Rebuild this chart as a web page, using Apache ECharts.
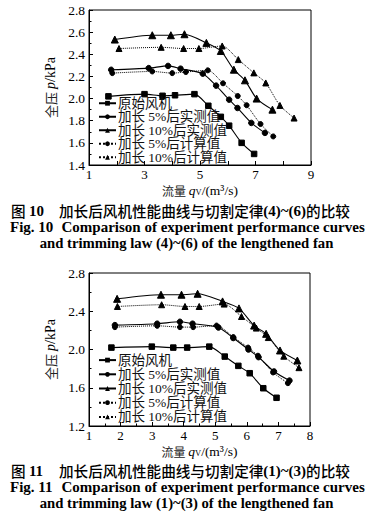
<!DOCTYPE html>
<html><head><meta charset="utf-8">
<script src="https://cdn.jsdelivr.net/npm/echarts@6/dist/echarts.min.js"></script>
<style>html,body{margin:0;padding:0;background:#fff}#c{width:371px;height:527px}</style>
</head><body><div id="c"></div>
<script>
// ---- series names ----
const seriesNames = ['原始风机', '加长 5%后实测值', '加长 10%后实测值', '加长 5%后计算值', '加长 10%后计算值'];

// ---- Fig. 10 data (flow q m^3/s, pressure p kPa) ----
const f10_qOrig = [1.70, 3.00, 3.65, 4.10, 4.80, 5.30, 5.75, 6.05, 6.50, 6.95];
const f10_pOrig = [2.02, 2.04, 2.025, 2.03, 2.04, 1.935, 1.835, 1.755, 1.60, 1.50];
const f10_q5m = [1.80, 3.15, 3.85, 4.30, 5.10, 5.58, 6.05, 6.35, 6.85, 7.34];
const f10_p5m = [2.26, 2.275, 2.295, 2.27, 2.225, 2.117, 1.99, 1.915, 1.78, 1.69];
const f10_q10m = [1.93, 3.28, 3.95, 4.44, 5.23, 5.75, 6.22, 6.62, 7.04, 7.61];
const f10_p10m = [2.533, 2.572, 2.572, 2.581, 2.503, 2.43, 2.261, 2.165, 2.00, 1.90];
const f10_q5c = [1.84, 3.28, 4.00, 4.49, 5.28, 5.83, 6.36, 6.68, 7.18, 7.64];
const f10_p5c = [2.23, 2.245, 2.23, 2.24, 2.255, 2.138, 2.023, 1.94, 1.77, 1.658];
const f10_q10c = [2.08, 3.60, 4.41, 4.96, 5.80, 6.38, 6.94, 7.37, 7.88, 8.39];
const f10_p10c = [2.452, 2.463, 2.452, 2.452, 2.475, 2.352, 2.232, 2.141, 1.938, 1.824];

// ---- Fig. 11 data ----
const f11_qOrig = [1.71, 2.99, 3.67, 4.11, 4.81, 5.30, 5.73, 6.09, 6.52, 6.94];
const f11_pOrig = [2.02, 2.03, 2.02, 2.02, 2.03, 1.926, 1.829, 1.752, 1.595, 1.495];
const f11_q5m = [1.82, 3.16, 3.88, 4.28, 5.10, 5.57, 6.05, 6.37, 6.86, 7.35];
const f11_p5m = [2.255, 2.27, 2.29, 2.27, 2.23, 2.12, 2.00, 1.92, 1.77, 1.675];
const f11_q10m = [1.89, 3.28, 3.93, 4.44, 5.23, 5.75, 6.23, 6.61, 7.05, 7.60];
const f11_p10m = [2.53, 2.573, 2.573, 2.583, 2.503, 2.43, 2.25, 2.164, 1.99, 1.885];
const f11_q5c = [1.82, 3.16, 3.88, 4.30, 5.04, 5.57, 6.04, 6.35, 6.83, 7.30];
const f11_p5c = [2.234, 2.248, 2.234, 2.234, 2.25, 2.13, 2.02, 1.935, 1.76, 1.648];
const f11_q10c = [1.90, 3.30, 4.04, 4.49, 5.28, 5.83, 6.30, 6.68, 7.17, 7.65];
const f11_p10c = [2.45, 2.468, 2.45, 2.45, 2.475, 2.345, 2.224, 2.125, 1.93, 1.81];

// ---- tick settings ----
const f10_xTicks = [1, 9, 1];     // min, max, interval
const f10_yTicks = [1.4, 2.8, 0.2];
const f11_xTicks = [1, 8, 1];
const f11_yTicks = [1.2, 2.8, 0.4];

const SERIF = '"Liberation Serif","Times New Roman","Noto Sans CJK SC",serif';
const CJK = '"Noto Sans CJK SC",sans-serif';
const INK = '#000';

function zip(q, p) { return q.map((v, i) => [v, p[i]]); }

function mk(nameIdx, q, p, g, symbol, dotted) {
  return {
    type: 'line', name: seriesNames[nameIdx], xAxisIndex: g, yAxisIndex: g,
    data: zip(q, p), smooth: 0.25, symbol: symbol,
    symbolSize: symbol === 'triangle' ? (dotted ? 6 : 7) : (dotted ? 5 : 5.5),
    lineStyle: { color: INK, width: dotted ? 1 : 1.1, type: dotted ? 'dotted' : 'solid' },
    itemStyle: { color: INK, borderColor: INK },
    emphasis: { disabled: true }, silent: true
  };
}

function xAx(g, t, oddOnly) {
  return {
    type: 'value', gridIndex: g, min: t[0], max: t[1], interval: t[2],
    axisLine: { lineStyle: { color: INK, width: 1 } },
    axisTick: { inside: true, length: 4, lineStyle: { color: INK } },
    minorTick: { show: !oddOnly, splitNumber: 2, length: 2.5, lineStyle: { color: INK } },
    splitLine: { show: false },
    axisLabel: { margin: 3, color: INK, fontFamily: SERIF, fontSize: 13, lineHeight: 13,
      formatter: v => oddOnly ? (Math.round(v) % 2 === 1 ? String(v) : '') : String(v) },
    name: '{c|流量 }{i|q}{s|V}{n|/(m³/s)}', nameLocation: 'middle', nameGap: 19,
    nameTextStyle: { lineHeight: 13, rich: {
      c: { fontFamily: CJK, fontSize: 12, color: '#222', lineHeight: 13 },
      i: { fontFamily: SERIF, fontSize: 13.5, fontStyle: 'italic', color: INK, lineHeight: 13 },
      s: { fontFamily: SERIF, fontSize: 8.5, color: INK, lineHeight: 13, padding: [3, 0, 0, 0] },
      n: { fontFamily: SERIF, fontSize: 13.5, color: INK, lineHeight: 13 }
    } }
  };
}

function yAx(g, t) {
  return {
    type: 'value', gridIndex: g, min: t[0], max: t[1], interval: t[2],
    axisLine: { lineStyle: { color: INK, width: 1 } },
    axisTick: { inside: true, length: 4, lineStyle: { color: INK } },
    minorTick: { show: true, splitNumber: 2, length: 2.5, lineStyle: { color: INK } },
    splitLine: { show: false },
    axisLabel: { margin: 4, color: INK, fontFamily: SERIF, fontSize: 13.5, formatter: v => v.toFixed(1) },
    name: '{c|全压 }{i|p}{n|/kPa}', nameLocation: 'middle', nameRotate: 90, nameGap: 24,
    nameTextStyle: { rich: {
      c: { fontFamily: CJK, fontSize: 13, color: '#222' },
      i: { fontFamily: SERIF, fontSize: 14, fontStyle: 'italic', color: INK },
      n: { fontFamily: SERIF, fontSize: 14, color: INK }
    } }
  };
}

function legend(top, lh) {
  return {
    orient: 'vertical', left: 98, top: top, itemGap: 0, itemWidth: 17, itemHeight: 6,
    padding: 0, selectedMode: false,
    data: seriesNames,
    textStyle: { fontFamily: SERIF, fontSize: 13.5, color: '#111', lineHeight: lh, padding: [0, 0, 0, -3] }
  };
}

function caption(y0, num, law, lawEn) {
  const els = [];
  const cjkStyle = { fontFamily: CJK, fontSize: 14.6, fill: INK, fontWeight: 500 };
  const bStyle = { fontFamily: SERIF, fontSize: 15, fontWeight: 'bold', fill: INK };
  els.push({ type: 'text', x: 11, y: y0, style: { text: '{c|图 }{b|' + num + '}', verticalAlign: 'middle',
    rich: { c: cjkStyle, b: bStyle } } });
  els.push({ type: 'text', x: 59, y: y0, style: { text: '{c|加长后风机性能曲线与切割定律}{b|' + law + '}{c|的比较}', verticalAlign: 'middle',
    rich: { c: cjkStyle, b: bStyle } } });
  els.push({ type: 'text', x: 10, y: y0 + 16.8, style: { text: 'Fig. ' + num, verticalAlign: 'middle',
    fontFamily: SERIF, fontSize: 15, fontWeight: 'bold', fill: INK } });
  els.push({ type: 'text', x: 61.5, y: y0 + 16.8, style: { text: 'Comparison of experiment performance curves', verticalAlign: 'middle',
    fontFamily: SERIF, fontSize: 15, fontWeight: 'bold', fill: INK } });
  els.push({ type: 'text', x: 186.5, y: y0 + 32.8, style: { text: 'and trimming law ' + lawEn + ' of the lengthened fan', align: 'center', verticalAlign: 'middle',
    fontFamily: SERIF, fontSize: 14.7, fontWeight: 'bold', fill: INK } });
  return els;
}

const chart = echarts.init(document.getElementById('c'), null, { renderer: 'svg' });
chart.setOption({
  backgroundColor: '#fff',
  animation: false,
  grid: [
    { left: 89, top: 10, width: 222, height: 155, show: true, borderColor: INK, borderWidth: 1, backgroundColor: 'transparent' },
    { left: 89, top: 273, width: 221, height: 153, show: true, borderColor: INK, borderWidth: 1, backgroundColor: 'transparent' }
  ],
  xAxis: [xAx(0, f10_xTicks, true), xAx(1, f11_xTicks, false)],
  yAxis: [yAx(0, f10_yTicks), yAx(1, f11_yTicks)],
  legend: [legend(96.5, 13.5), legend(353, 14.2)],
  series: [
    mk(0, f10_qOrig, f10_pOrig, 0, 'rect', false),
    mk(1, f10_q5m, f10_p5m, 0, 'circle', false),
    mk(2, f10_q10m, f10_p10m, 0, 'triangle', false),
    mk(3, f10_q5c, f10_p5c, 0, 'circle', true),
    mk(4, f10_q10c, f10_p10c, 0, 'triangle', true),
    mk(0, f11_qOrig, f11_pOrig, 1, 'rect', false),
    mk(1, f11_q5m, f11_p5m, 1, 'circle', false),
    mk(2, f11_q10m, f11_p10m, 1, 'triangle', false),
    mk(3, f11_q5c, f11_p5c, 1, 'circle', true),
    mk(4, f11_q10c, f11_p10c, 1, 'triangle', true)
  ],
  graphic: [].concat(caption(210.5, '10', '(4)~(6)', '(4)~(6)'), caption(470.5, '11', '(1)~(3)', '(1)~(3)'))
});
</script></body></html>
